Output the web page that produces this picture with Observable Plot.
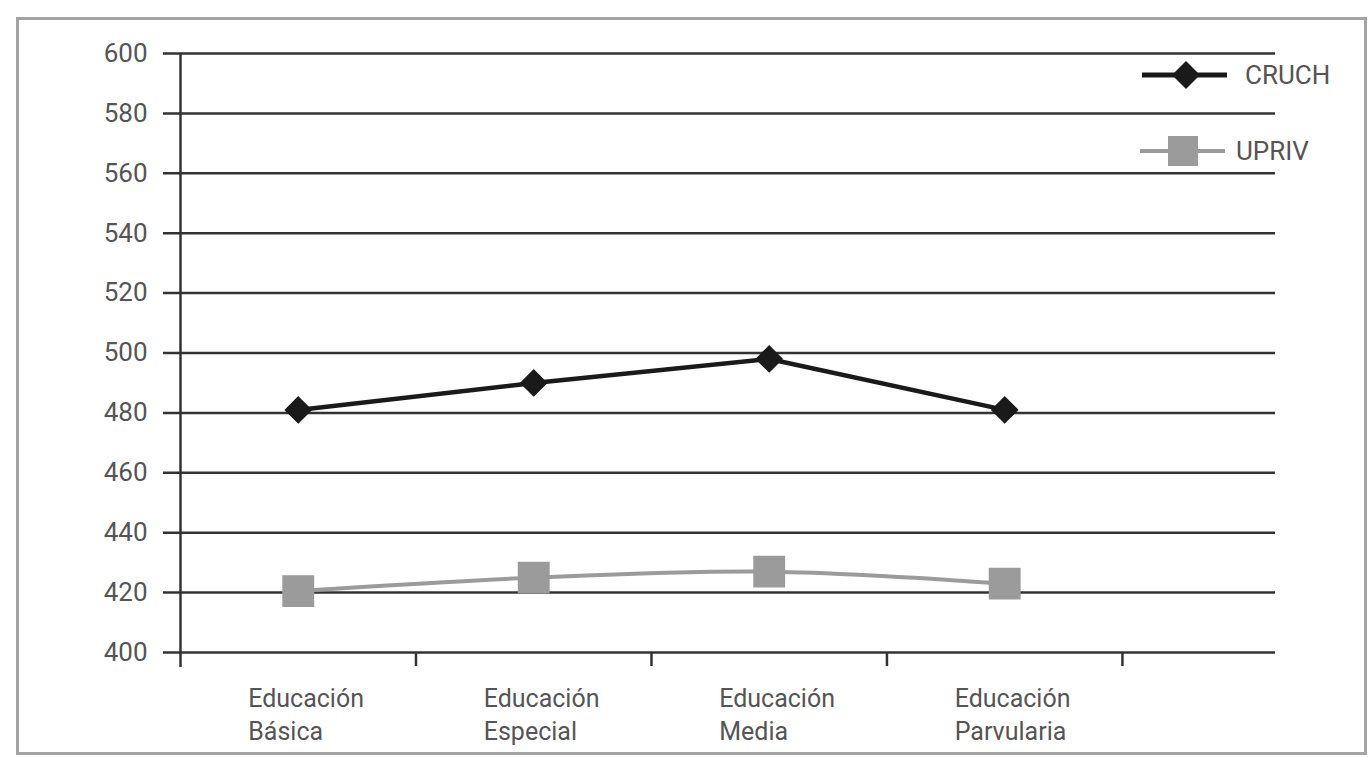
<!DOCTYPE html>
<html><head><meta charset="utf-8">
<script src="https://cdn.jsdelivr.net/npm/d3@7"></script>
<script src="https://cdn.jsdelivr.net/npm/@observablehq/plot@0.6"></script>
<style>
body{margin:0;background:#fff;}
#wrap{position:relative;width:1369px;height:757px;font-family:Roboto,"Liberation Sans",sans-serif;overflow:hidden;}
#border{position:absolute;left:16px;top:17px;width:1351px;height:738px;border:3px solid #a3a3a3;box-sizing:border-box;pointer-events:none;}
#chart{position:absolute;left:0;top:0;}
#legend{position:absolute;left:0;top:0;}
</style></head><body>
<div id="wrap"><div id="chart"></div><div id="legend"></div><div id="border"></div></div>
<script>
const categories = ["Educación\nBásica", "Educación\nEspecial", "Educación\nMedia", "Educación\nParvularia"];
const seriesNames = ["CRUCH", "UPRIV"];
const cruch = [481, 490, 498, 481];
const upriv = [420.5, 425, 427, 423];
const yTicks = [400, 420, 440, 460, 480, 500, 520, 540, 560, 580, 600];
const bandEdges = [0, 1, 2, 3, 4];

const catRows = categories.map((c, i) => ({label: c, pos: i + 0.5}));
const cruchRows = categories.map((c, i) => ({pos: i + 0.5, value: cruch[i]}));
const uprivRows = categories.map((c, i) => ({pos: i + 0.5, value: upriv[i]}));

const textColor = "#555";
const gridColor = "#333";
const cruchColor = "#1a1a1a";
const uprivColor = "#9b9b9b";

const chart = Plot.plot({
  width: 1369,
  height: 757,
  marginLeft: 180,
  marginRight: 94,
  marginTop: 53,
  marginBottom: 105,
  style: {fontFamily: "Roboto, 'Liberation Sans', sans-serif", background: "transparent", overflow: "visible"},
  x: {type: "linear", domain: [0, 4.65], axis: null},
  y: {domain: [400, 600], axis: null},
  marks: [
    Plot.ruleY(yTicks, {stroke: gridColor, strokeWidth: 2.5, insetLeft: -17}),
    Plot.text(yTicks, {y: d => d, text: d => String(d), frameAnchor: "left", textAnchor: "end", dx: -33, fontSize: 26, fill: textColor}),
    Plot.ruleX([0], {y1: 600, y2: 400, insetBottom: -15, stroke: gridColor, strokeWidth: 2.5}),
    Plot.ruleX(bandEdges.slice(1), {y1: 400, y2: 400, insetBottom: -14, stroke: gridColor, strokeWidth: 2.5}),
    Plot.text(catRows, {x: "pos", text: "label", frameAnchor: "bottom", textAnchor: "start", lineAnchor: "top", dx: -50, dy: 31, fontSize: 25, lineHeight: 1.32, fill: textColor}),
    Plot.line(uprivRows, {x: "pos", y: "value", stroke: uprivColor, strokeWidth: 4, curve: "catmull-rom"}),
    Plot.dot(uprivRows, {x: "pos", y: "value", symbol: "square", r: 18, fill: uprivColor, stroke: "none"}),
    Plot.line(cruchRows, {x: "pos", y: "value", stroke: cruchColor, strokeWidth: 4.5}),
    Plot.dot(cruchRows, {x: "pos", y: "value", symbol: "diamond2", r: 12.5, fill: cruchColor, stroke: "none"})
  ]
});
document.getElementById("chart").appendChild(chart);

// Legend
const legendItems = [
  {name: seriesNames[0], color: cruchColor, symbol: "diamond", top: 75, lineX1: 1142, lineX2: 1227, cx: 1186, textX: 1245},
  {name: seriesNames[1], color: uprivColor, symbol: "square", top: 151, lineX1: 1140, lineX2: 1225, cx: 1183, textX: 1236}
];
const ns = "http://www.w3.org/2000/svg";
const lsvg = document.createElementNS(ns, "svg");
lsvg.setAttribute("width", 1369);
lsvg.setAttribute("height", 757);
lsvg.style.position = "absolute";
lsvg.style.left = "0px";
lsvg.style.top = "0px";
for (const it of legendItems) {
  const ln = document.createElementNS(ns, "line");
  ln.setAttribute("x1", it.lineX1); ln.setAttribute("x2", it.lineX2);
  ln.setAttribute("y1", it.top); ln.setAttribute("y2", it.top);
  ln.setAttribute("stroke", it.color); ln.setAttribute("stroke-width", it.symbol === "diamond" ? 5 : 4);
  lsvg.appendChild(ln);
  if (it.symbol === "diamond") {
    const p = document.createElementNS(ns, "path");
    const h = 14;
    p.setAttribute("d", `M${it.cx},${it.top - h}L${it.cx + h},${it.top}L${it.cx},${it.top + h}L${it.cx - h},${it.top}Z`);
    p.setAttribute("fill", it.color);
    lsvg.appendChild(p);
  } else {
    const r = document.createElementNS(ns, "rect");
    r.setAttribute("x", it.cx - 15); r.setAttribute("y", it.top - 15);
    r.setAttribute("width", 30); r.setAttribute("height", 30);
    r.setAttribute("fill", it.color);
    lsvg.appendChild(r);
  }
  const t = document.createElementNS(ns, "text");
  t.setAttribute("x", it.textX); t.setAttribute("y", it.top);
  t.setAttribute("dy", "0.35em");
  t.setAttribute("font-size", 26);
  t.setAttribute("font-family", "Roboto, 'Liberation Sans', sans-serif");
  t.setAttribute("fill", textColor);
  t.textContent = it.name;
  lsvg.appendChild(t);
}
document.getElementById("legend").appendChild(lsvg);
</script>
</body></html>
